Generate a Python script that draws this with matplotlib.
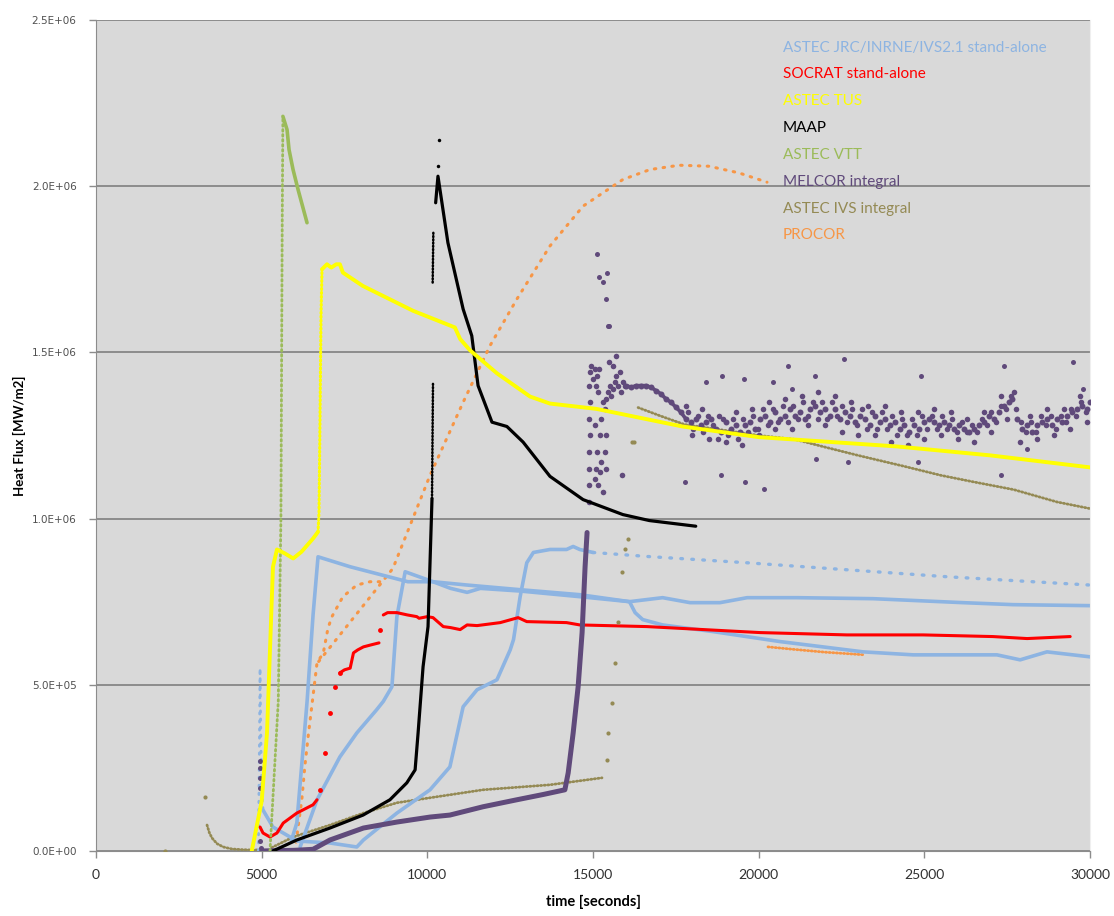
import matplotlib.pyplot as plt
import numpy as np
from matplotlib.lines import Line2D
from matplotlib.ticker import FuncFormatter, MultipleLocator

# heat flux values below are in units of 1E+06 W/m2, time in seconds

# ASTEC JRC/INRNE/IVS2.1 stand-alone: four runs, one colour
jrc_a_t = [5900, 6060, 6370, 6550, 6700, 7670, 9410, 10170, 11200, 12800, 14600, 16100,
           17100, 17930, 18830, 19650, 21150, 23450, 26170, 27680, 30000]
jrc_a_q = [0.033, 0.084, 0.45, 0.71, 0.885, 0.855, 0.81, 0.81, 0.80, 0.786, 0.771, 0.75,
           0.762, 0.747, 0.747, 0.762, 0.762, 0.759, 0.747, 0.741, 0.738]
jrc_b_t = [6160, 6670, 7360, 7870, 8470, 8670, 8930, 9080, 9330, 10170, 10700, 11200, 11600,
           12800, 14600, 16100, 16270, 16500, 17100, 18620, 20640, 23150, 24660, 27190,
           27890, 28700, 30000]
jrc_b_q = [0.012, 0.154, 0.283, 0.355, 0.425, 0.45, 0.494, 0.705, 0.84, 0.81, 0.79, 0.778,
           0.79, 0.782, 0.765, 0.75, 0.717, 0.696, 0.68, 0.66, 0.63, 0.599, 0.59, 0.59,
           0.575, 0.599, 0.584]
jrc_c_spike_t = [4900, 4930, 4950, 4960, 4980, 5000, 5040]
jrc_c_spike_q = [0.0, 0.30, 0.55, 0.45, 0.30, 0.20, 0.123]
jrc_c_t = [5040, 5340, 5650, 6060, 7060, 7870, 8070, 9080, 10080, 10680, 11080, 11500,
           12100, 12500, 12600, 12800, 13000, 13200, 13700, 14200, 14400, 14600, 15000]
jrc_c_q = [0.123, 0.072, 0.054, 0.03, 0.024, 0.012, 0.033, 0.114, 0.184, 0.253, 0.434,
           0.485, 0.515, 0.605, 0.636, 0.765, 0.867, 0.898, 0.907, 0.907, 0.916, 0.907, 0.898]
jrc_c_tail_t = [15000, 16630, 19650, 22660, 25680, 30000]
jrc_c_tail_q = [0.898, 0.886, 0.867, 0.846, 0.825, 0.80]

# SOCRAT stand-alone
socrat_low_t = [4950, 5040, 5250, 5460, 5650, 6060, 6550, 6670]
socrat_low_q = [0.072, 0.054, 0.042, 0.054, 0.084, 0.114, 0.139, 0.154]
socrat_jump_t = [6760, 6910, 7060, 7210, 7360, 8560]
socrat_jump_q = [0.184, 0.295, 0.416, 0.494, 0.536, 0.666]
socrat_mid_t = [7360, 7500, 7670, 7770, 7900, 8070, 8300, 8540]
socrat_mid_q = [0.536, 0.545, 0.55, 0.596, 0.605, 0.614, 0.62, 0.626]
socrat_t = [8670, 8800, 9080, 9400, 9680, 9750, 10000, 10170, 10480, 10700, 10990, 11200,
            11500, 12200, 12740, 13000, 14200, 14600, 16630, 20040, 22660, 24960, 27070,
            28100, 29400]
socrat_q = [0.71, 0.717, 0.717, 0.71, 0.705, 0.70, 0.705, 0.702, 0.675, 0.672, 0.666, 0.68,
            0.678, 0.687, 0.702, 0.69, 0.687, 0.68, 0.675, 0.657, 0.65, 0.65, 0.645, 0.639,
            0.645]

# ASTEC TUS
tus_t = [4700, 5000, 5160, 5340, 5460, 5700, 5950, 6200, 6550, 6700]
tus_q = [0.0, 0.15, 0.355, 0.855, 0.907, 0.895, 0.88, 0.90, 0.94, 0.96]
tus_jump_t = [6700, 6730, 6760, 6790, 6820]
tus_jump_q = [0.96, 1.02, 1.30, 1.61, 1.75]
tus_hi_t = [6820, 6970, 7100, 7250, 7360, 7450, 8050, 9570, 10830, 10990, 11290, 12100,
            13100, 13700, 15100, 17700, 20000, 24170, 27000, 30000]
tus_hi_q = [1.75, 1.765, 1.755, 1.765, 1.765, 1.74, 1.70, 1.625, 1.575, 1.54, 1.506, 1.437,
            1.367, 1.346, 1.33, 1.277, 1.245, 1.217, 1.19, 1.154]

# MAAP
maap_t = [5340, 6060, 7060, 8060, 8870, 9380, 9630, 9720, 9870, 10020, 10140]
maap_q = [0.0, 0.033, 0.069, 0.108, 0.154, 0.205, 0.244, 0.355, 0.554, 0.675, 1.06]
maap_dots_t = [10140, 10170]
maap_dots_q = [1.06, 1.41]
maap_dots2_t = [10160, 10180]
maap_dots2_q = [1.71, 1.86]
maap_pts_t = [10340, 10330]
maap_pts_q = [2.14, 2.06]
maap_hi_t = [10250, 10320, 10620, 11080, 11340, 11530, 11950, 12400, 12890, 13700, 14700,
             15900, 16700, 18100]
maap_hi_q = [1.95, 2.03, 1.83, 1.63, 1.55, 1.40, 1.29, 1.277, 1.23, 1.127, 1.057, 1.012,
             0.994, 0.977]

# ASTEC VTT
vtt_rise_t = [5250, 5500, 5580, 5620, 5640]
vtt_rise_q = [0.0, 0.45, 1.0, 1.9, 2.21]
vtt_t = [5640, 5765, 5825, 5946, 6097, 6368]
vtt_q = [2.21, 2.17, 2.11, 2.05, 1.99, 1.89]

# MELCOR integral
melcor_t = [5000, 6000, 6550, 7060, 8070, 9080, 10080, 10680, 11680, 12700, 13500, 14150,
            14250, 14400, 14550, 14670, 14760, 14820]
melcor_q = [0.0, 0.002, 0.005, 0.033, 0.069, 0.087, 0.102, 0.108, 0.133, 0.154, 0.17,
            0.184, 0.235, 0.355, 0.494, 0.657, 0.855, 0.958]
melcor_early_t = [4950, 4950, 4960, 4950, 4960, 4970]
melcor_early_q = [0.27, 0.25, 0.22, 0.19, 0.03, 0.01]
melcor_band_t = [16000, 16150, 16300, 16450, 16600, 16750, 16900, 17050, 17200, 17350,
                 17500, 17650, 17800, 17950, 18100, 18250, 18400, 18550, 18700, 18850,
                 19000, 19150, 19300, 19450, 19600, 19750, 19900, 20050, 20200, 20350,
                 20500, 20650, 20800, 20950, 21100, 21250, 21400, 21550, 21700, 21850,
                 22000, 22150, 22300, 22450, 22600, 22750, 22900, 23050, 23200, 23350,
                 23500, 23650, 23800, 23950, 24100, 24250, 24400, 24550, 24700, 24850,
                 25000, 25150, 25300, 25450, 25600, 25750, 25900, 26050, 26200, 26350,
                 26500, 26650, 26800, 26950, 27100, 27250, 27400, 27550, 27650, 27800,
                 27950, 28100, 28250, 28400, 28550, 28700, 28850, 29000, 29150, 29300,
                 29450, 29600, 29750, 29900, 30000]
melcor_band_q = [1.40, 1.395, 1.40, 1.40, 1.40, 1.395, 1.385, 1.375, 1.36, 1.35,
                 1.335, 1.32, 1.30, 1.29, 1.30, 1.28, 1.29, 1.30, 1.27, 1.26,
                 1.29, 1.27, 1.28, 1.26, 1.28, 1.29, 1.27, 1.30, 1.31, 1.29,
                 1.32, 1.30, 1.31, 1.33, 1.31, 1.32, 1.30, 1.33, 1.34, 1.32,
                 1.33, 1.31, 1.33, 1.30, 1.32, 1.31, 1.29, 1.31, 1.30, 1.28,
                 1.31, 1.29, 1.30, 1.28, 1.29, 1.27, 1.28, 1.26, 1.28, 1.27,
                 1.29, 1.30, 1.29, 1.28, 1.29, 1.28, 1.27, 1.28, 1.27, 1.26,
                 1.27, 1.28, 1.29, 1.31, 1.30, 1.32, 1.34, 1.35, 1.36, 1.30,
                 1.27, 1.28, 1.26, 1.28, 1.29, 1.30, 1.28, 1.30, 1.29, 1.31,
                 1.32, 1.33, 1.34, 1.33, 1.35]
melcor_scat_t = [14870, 14880, 14890, 14870, 14900, 14880, 14910, 14890, 14920, 14950,
                 15000, 15050, 15100, 15120, 15150, 15180, 15060, 15100, 15150, 15200,
                 15110, 15050, 15200, 15250, 15300, 15350, 15400, 15450, 15500, 15550,
                 15600, 15650, 15700, 15750, 15800, 15850, 15900, 15950, 15350, 15400,
                 15480, 15600, 15700, 15300, 15250, 15400, 15870,
                 17800, 18000, 18300, 18500, 18800, 19000, 19300, 19500, 19800, 20000,
                 20300, 20500, 20800, 21000, 21300, 21500, 21800, 22000, 22300, 22500,
                 22800, 23000, 23300, 23500, 23800, 24000, 24300, 24500, 24800, 25000,
                 25300, 25500, 25800, 26000, 26300, 26500, 26800, 27000, 27300, 27500,
                 27700, 27900, 28200, 28400, 28700, 28900, 29200, 29400, 29700, 29900]
melcor_scat_q = [1.05, 1.10, 1.15, 1.20, 1.25, 1.30, 1.35, 1.40, 1.44, 1.46,
                 1.42, 1.45, 1.40, 1.43, 1.38, 1.45, 1.12, 1.15, 1.10, 1.14,
                 1.20, 1.28, 1.25, 1.30, 1.35, 1.33, 1.36, 1.38, 1.40, 1.37,
                 1.39, 1.41, 1.43, 1.40, 1.44, 1.38, 1.41, 1.40, 1.20, 1.15,
                 1.47, 1.46, 1.49, 1.08, 1.17, 1.25, 1.13,
                 1.34, 1.25, 1.33, 1.24, 1.31, 1.23, 1.32, 1.22, 1.33, 1.25,
                 1.35, 1.27, 1.36, 1.27, 1.37, 1.28, 1.38, 1.28, 1.37, 1.26,
                 1.35, 1.25, 1.34, 1.25, 1.34, 1.23, 1.32, 1.22, 1.32, 1.24,
                 1.33, 1.25, 1.32, 1.24, 1.30, 1.23, 1.32, 1.26, 1.37, 1.30,
                 1.38, 1.23, 1.31, 1.24, 1.33, 1.25, 1.33, 1.27, 1.37, 1.29]
melcor_fill = [(17875, 1.32), (18025, 1.27), (18175, 1.31), (18325, 1.26), (18475, 1.31),
               (18625, 1.28), (18775, 1.24), (18925, 1.30), (19075, 1.25), (19225, 1.30),
               (19375, 1.24), (19525, 1.30), (19675, 1.26), (19825, 1.31), (19975, 1.27),
               (20125, 1.33), (20275, 1.28), (20425, 1.33), (20575, 1.29), (20725, 1.34),
               (20875, 1.29), (21025, 1.34), (21175, 1.30), (21325, 1.35), (21475, 1.31),
               (21625, 1.35), (21775, 1.30), (21925, 1.35), (22075, 1.30), (22225, 1.35),
               (22375, 1.31), (22525, 1.34), (22675, 1.29), (22825, 1.33), (22975, 1.28),
               (23125, 1.33), (23275, 1.27), (23425, 1.32), (23575, 1.27), (23725, 1.32),
               (23875, 1.27), (24025, 1.31), (24175, 1.25), (24325, 1.30), (24475, 1.25),
               (24625, 1.30), (24775, 1.25), (24925, 1.31), (25075, 1.27), (25225, 1.31),
               (25375, 1.27), (25525, 1.31), (25675, 1.27), (25825, 1.30), (25975, 1.26),
               (26125, 1.29), (26275, 1.26), (26425, 1.28), (26575, 1.26), (26725, 1.30),
               (26875, 1.28), (27025, 1.32), (27175, 1.29), (27325, 1.34), (27475, 1.33),
               (27625, 1.37), (27775, 1.33), (27925, 1.29), (28075, 1.26), (28225, 1.29),
               (28375, 1.26), (28525, 1.31), (28675, 1.28), (28825, 1.31), (28975, 1.27),
               (29125, 1.31), (29275, 1.29), (29425, 1.33), (29575, 1.31), (29725, 1.35),
               (29875, 1.32)]
melcor_out_t = [15120, 15180, 15300, 15420, 15390, 15450, 15480, 17780, 18400, 18860,
                18900, 19550, 19590, 20160, 20430, 20880, 21000, 21700, 21730, 22580,
                22700, 24800, 24900, 27300, 27400, 28100, 29500, 29800]
melcor_out_q = [1.795, 1.726, 1.711, 1.738, 1.66, 1.58, 1.58, 1.11, 1.41, 1.13,
                1.43, 1.42, 1.11, 1.09, 1.41, 1.46, 1.39, 1.43, 1.18, 1.48,
                1.17, 1.17, 1.43, 1.13, 1.46, 1.21, 1.47, 1.39]

# ASTEC IVS integral
ivs_early_t = [3350, 3420, 3500, 3650, 3840, 4100, 4400, 4650, 4900]
ivs_early_q = [0.078, 0.055, 0.039, 0.022, 0.012, 0.006, 0.004, 0.003, 0.003]
ivs_lone_t = [2080, 3290, 16240]
ivs_lone_q = [0.0, 0.163, 1.229]
ivs_mid_t = [5300, 5950, 7060, 8070, 9080, 10080, 11680, 13700, 15270]
ivs_mid_q = [0.01, 0.042, 0.078, 0.114, 0.145, 0.16, 0.184, 0.199, 0.22]
ivs_rise_t = [15420, 15460, 15570, 15660, 15750, 15870, 15960, 16060, 16180]
ivs_rise_q = [0.274, 0.355, 0.446, 0.566, 0.69, 0.84, 0.907, 0.94, 1.23]
ivs_t = [16360, 17000, 17760, 19000, 20000, 21100, 22000, 23000, 24400, 25500, 26500,
         27700, 29000, 30000]
ivs_q = [1.334, 1.31, 1.283, 1.265, 1.25, 1.238, 1.215, 1.19, 1.157, 1.13, 1.11, 1.087,
         1.05, 1.030]

# PROCOR
procor_a_t = [6720, 8960, 10080, 11080, 11890, 12700, 13700, 14700, 15900, 16720, 17600,
              18500, 19400, 20250]
procor_a_q = [0.57, 0.85, 1.13, 1.35, 1.52, 1.66, 1.82, 1.94, 2.02, 2.05, 2.063, 2.06,
              2.04, 2.012]
procor_b_t = [6000, 6210, 6300, 6400, 6670, 6860, 7000, 7120, 7450, 7870, 8270, 8780]
procor_b_q = [0.0, 0.154, 0.253, 0.343, 0.566, 0.596, 0.67, 0.705, 0.765, 0.80, 0.81, 0.81]
procor_c_t = [20280, 21000, 22000, 23210]
procor_c_q = [0.614, 0.607, 0.598, 0.59]

labels = ['ASTEC JRC/INRNE/IVS2.1 stand-alone', 'SOCRAT stand-alone', 'ASTEC TUS', 'MAAP',
          'ASTEC VTT', 'MELCOR integral', 'ASTEC IVS integral', 'PROCOR']
colors = ['#8db4e2', '#ff0000', '#ffff00', '#000000', '#9bbb59', '#604a7b', '#948a54',
          '#f79646']
c_jrc, c_soc, c_tus, c_maap, c_vtt, c_mel, c_ivs, c_pro = colors

M = 1e6
dots = (0, (0.5, 2.4))
fine_dots = (0, (0.4, 0.9))
narrow = ['Lato', 'DejaVu Sans']

fig = plt.figure(figsize=(11.14, 9.16), dpi=100)
ax = fig.add_axes([0.0862, 0.0710, 0.8923, 0.9072])
ax.set_facecolor('#d9d9d9')


def line(t, q, c, lw, ls='-', z=2):
    ax.plot(t, np.array(q) * M, color=c, lw=lw, ls=ls, zorder=z,
            solid_capstyle='round', dash_capstyle='round')


def pts(t, q, c, ms, z=3):
    ax.plot(t, np.array(q) * M, ls='none', marker='o', ms=ms, color=c, mec='none', zorder=z)


# PROCOR
line(procor_a_t, procor_a_q, c_pro, 2.2, dots)
line(procor_b_t, procor_b_q, c_pro, 2.2, dots)
line(procor_c_t, procor_c_q, c_pro, 2.0, fine_dots)

# ASTEC IVS integral
pts(ivs_lone_t, ivs_lone_q, c_ivs, 3)
pts(ivs_rise_t, ivs_rise_q, c_ivs, 3)
line(ivs_early_t, ivs_early_q, c_ivs, 2.0, fine_dots)
line(ivs_mid_t, ivs_mid_q, c_ivs, 2.0, fine_dots)
line(ivs_t, ivs_q, c_ivs, 2.0, fine_dots)

# ASTEC JRC/INRNE/IVS2.1 stand-alone
line(jrc_a_t, jrc_a_q, c_jrc, 2.6)
line(jrc_b_t, jrc_b_q, c_jrc, 2.6)
line(jrc_c_spike_t, jrc_c_spike_q, c_jrc, 2.0, dots)
line(jrc_c_t, jrc_c_q, c_jrc, 2.6)
line(jrc_c_tail_t, jrc_c_tail_q, c_jrc, 2.4, (0, (0.5, 2.8)))

# SOCRAT stand-alone
line(socrat_low_t, socrat_low_q, c_soc, 2.2)
pts(socrat_jump_t, socrat_jump_q, c_soc, 3.5)
line(socrat_mid_t, socrat_mid_q, c_soc, 2.2)
line(socrat_t, socrat_q, c_soc, 2.2)

# MELCOR integral
fill_t, fill_q = zip(*melcor_fill)
line(melcor_t, melcor_q, c_mel, 3.6, z=3)
pts(melcor_early_t, melcor_early_q, c_mel, 3.6)
pts(melcor_scat_t, melcor_scat_q, c_mel, 4.0)
pts(melcor_out_t, melcor_out_q, c_mel, 3.6)
pts(fill_t, fill_q, c_mel, 4.0)
line(melcor_band_t[:13], melcor_band_q[:13], c_mel, 2.6, z=3)
pts(melcor_band_t, melcor_band_q, c_mel, 4.3)

# MAAP
line(maap_t, maap_q, c_maap, 2.3, z=4)
line(maap_dots_t, maap_dots_q, c_maap, 1.8, fine_dots, z=4)
line(maap_dots2_t, maap_dots2_q, c_maap, 1.8, fine_dots, z=4)
pts(maap_pts_t, maap_pts_q, c_maap, 2.5, z=4)
line(maap_hi_t, maap_hi_q, c_maap, 2.3, z=4)

# ASTEC VTT
line(vtt_rise_t, vtt_rise_q, c_vtt, 2.0, (0, (0.6, 1.2)), z=4)
line(vtt_t, vtt_q, c_vtt, 2.6, z=4)

# ASTEC TUS
line(tus_t, tus_q, c_tus, 2.8, z=5)
line(tus_jump_t, tus_jump_q, c_tus, 2.2, fine_dots, z=5)
line(tus_hi_t, tus_hi_q, c_tus, 2.8, z=5)

ax.set_xlim(0, 30000)
ax.set_ylim(0, 2.5e6)
ax.xaxis.set_major_locator(MultipleLocator(5000))
ax.yaxis.set_major_locator(MultipleLocator(5e5))
ax.yaxis.set_major_formatter(FuncFormatter(lambda v, p: '%.1E' % v))
ax.grid(axis='y', color='#8c8c8c', lw=1.4, zorder=1)
ax.set_axisbelow(True)

ax.spines['top'].set_visible(False)
ax.spines['right'].set_color('#efefef')
ax.spines['left'].set_color('#8c8c8c')
ax.spines['bottom'].set_color('#8c8c8c')
ax.tick_params(axis='both', color='#8c8c8c', length=5, width=1)
ax.tick_params(axis='x', direction='out', labelsize=10, labelcolor='#303030', pad=8)
ax.tick_params(axis='y', direction='out', labelsize=7.5, labelcolor='#505050', pad=9)
for lab in ax.get_xticklabels():
    lab.set_family(narrow)

ax.set_xlabel('time [seconds]', fontsize=10.5, fontweight='bold', family=narrow, labelpad=10)
ax.set_ylabel('Heat Flux [MW/m2]', fontsize=9.5, fontweight='bold', family=narrow, labelpad=4)

handles = [Line2D([], [], color=c, label=l) for c, l in zip(colors, labels)]
leg = ax.legend(handles=handles, loc='upper left', bbox_to_anchor=(0.680, 0.988),
                frameon=False, handlelength=0, handletextpad=0, labelspacing=0.84,
                labelcolor='linecolor', borderpad=0.2,
                prop={'family': narrow, 'size': 11})
for h in leg.legend_handles:
    h.set_visible(False)

fig.savefig('out.png', dpi=100)
